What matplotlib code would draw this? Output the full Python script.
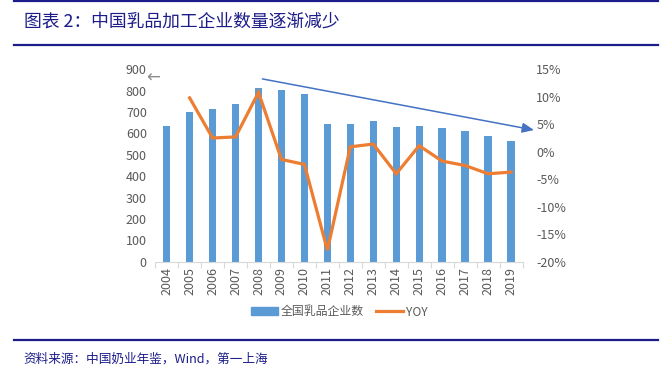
import matplotlib
matplotlib.use("Agg")
import matplotlib.pyplot as plt
from matplotlib.lines import Line2D
from matplotlib.ticker import FuncFormatter, MultipleLocator
import numpy as np

plt.rcParams['font.family'] = ['Noto Sans CJK SC', 'DejaVu Sans']

# -----------------------------
# Data
# -----------------------------
years = [str(y) for y in range(2004, 2020)]
firms = [635, 699, 714, 736, 814, 802, 785, 643, 646, 657, 629, 637, 626, 610, 587, 565]
yoy = [np.nan, 9.8, 2.5, 2.7, 10.8, -1.4, -2.3, -17.9, 0.9, 1.4, -4.0, 1.1, -1.7, -2.5, -4.0, -3.7]

title = "图表 2：中国乳品加工企业数量逐渐减少"
source = "资料来源：中国奶业年鉴，Wind，第一上海"
bar_label = "全国乳品企业数"
line_label = "YOY"

# trend arrow (bar-axis data coords)
trend_start = (4.17, 855)
trend_end = (16.0, 616)

BAR = "#5B9BD5"
ORANGE = "#ED7D31"
ARROW = "#4472C4"
NAVY = "#1C1C8A"
GREY = "#595959"
AXIS = "#D9D9D9"

W, H = 668, 369
fig = plt.figure(figsize=(W / 100, H / 100), dpi=100)

# -----------------------------
# Header / footer rules
# -----------------------------
def hline(y_px):
    fig.add_artist(Line2D([14 / W, 658 / W], [1 - y_px / H] * 2,
                          color=NAVY, lw=1.6, transform=fig.transFigure))

hline(1.0)
hline(45)
hline(340)

fig.text(24 / W, 1 - 22 / H, title, color=NAVY, fontsize=12.8,
         va="center", ha="left")
fig.text(23 / W, 1 - 359 / H, source, color=NAVY, fontsize=9.1,
         va="center", ha="left")

# -----------------------------
# Chart
# -----------------------------
left, right, top, bottom = 155.2, 522.5, 69.3, 261.7
ax = fig.add_axes([left / W, 1 - bottom / H, (right - left) / W, (bottom - top) / H])
x = np.arange(len(years))

ax.bar(x, firms, width=0.32, color=BAR, zorder=2)
ax.set_xlim(-0.5, len(years) - 0.5)
ax.set_ylim(0, 900)
ax.yaxis.set_major_locator(MultipleLocator(100))

ax.set_xticks(x)
ax.set_xticklabels(years, rotation=90)
ax.set_xticks(np.arange(-0.5, len(years), 1), minor=True)
ax.tick_params(axis="x", which="major", length=0, pad=4, labelsize=9, labelcolor=GREY)
ax.tick_params(axis="x", which="minor", length=4, color=AXIS, width=0.8)
ax.tick_params(axis="y", length=0, pad=6, labelsize=9, labelcolor=GREY)

for s in ["top", "right", "left"]:
    ax.spines[s].set_visible(False)
ax.spines["bottom"].set_color(AXIS)
ax.spines["bottom"].set_linewidth(0.8)

ax2 = ax.twinx()
ax2.plot(x, yoy, color=ORANGE, lw=2.3, zorder=3, solid_joinstyle="miter")
ax2.set_ylim(-20, 15)
ax2.yaxis.set_major_locator(MultipleLocator(5))
ax2.yaxis.set_major_formatter(FuncFormatter(lambda v, p: f"{v:.0f}%"))
ax2.tick_params(axis="y", length=0, pad=10, labelsize=9, labelcolor=GREY)
for s in ax2.spines.values():
    s.set_visible(False)

ax.annotate("", xy=trend_end, xytext=trend_start, annotation_clip=False,
            arrowprops=dict(arrowstyle="-|>,head_length=0.7,head_width=0.3",
                            color=ARROW, lw=1.1, shrinkA=0, shrinkB=0),
            zorder=4)

# stray left arrow near the top of left axis
fig.text(153 / W, 1 - 78 / H, "←", color="#8C8C8C", fontsize=12,
         ha="center", va="center", family=["DejaVu Sans"])

# -----------------------------
# Legend
# -----------------------------
handles = [plt.Rectangle((0, 0), 1, 1, color=BAR),
           Line2D([0], [0], color=ORANGE, lw=2.3)]
leg = fig.legend(handles, [bar_label, line_label], loc="center",
                 bbox_to_anchor=(339 / W, 1 - 312 / H), ncol=2, frameon=False,
                 fontsize=8.6, handlelength=2.3, handleheight=0.6,
                 handletextpad=0.2, columnspacing=1.0)
for t in leg.get_texts():
    t.set_color(GREY)

fig.savefig("out.png", dpi=100)
